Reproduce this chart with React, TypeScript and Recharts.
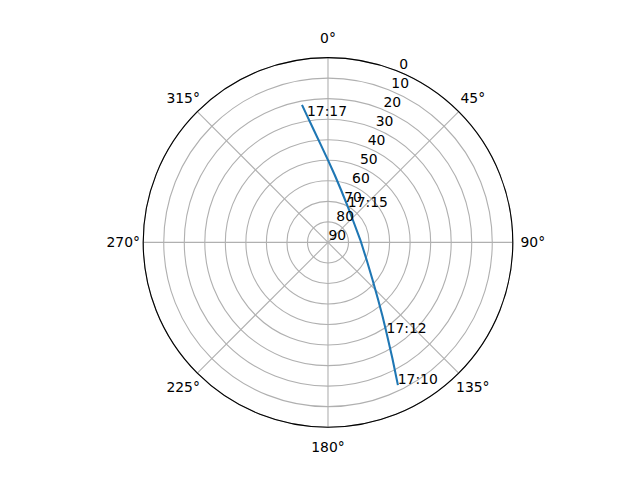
import { PolarAngleAxis, PolarGrid, PolarRadiusAxis, Radar, RadarChart } from "recharts";

// pass track, 17:10 -> end of pass
const timeLabels = ["17:10", "", "17:12", "", "", "", "", "", "", "17:15", "", "", "", "", "", "17:17", ""];
const azimuth = [153.8, 150.9, 147.2, 143.5, 138.9, 130.1, 114.5, 85.8, 48.0, 29.0, 14.0, 5.7, 0, 355.8, 352.8, 350.6, 349.4];
const elevation = [13.1, 25.6, 37.3, 45.4, 52.8, 61.6, 69.3, 74.2, 73.7, 70.1, 63.7, 57.0, 49.9, 42.4, 34.8, 27.4, 22.3];

const angleTicks = [0, 45, 90, 135, 180, 225, 270, 315];
const elevationTicks = [90, 80, 70, 60, 50, 40, 30, 20, 10, 0];

// radius = zenith distance, so 90 sits in the middle
const data = azimuth.map((az, i) => ({ az, zd: 90 - elevation[i], label: timeLabels[i] }));

const FONT = "DejaVu Sans";

function AngleTick(props: any) {
  const { x, y, payload } = props;
  return (
    <text x={x} y={y} textAnchor="middle" dominantBaseline="central" fontSize={13.9} fontFamily={FONT} fill="#000">
      {`${payload.value}°`}
    </text>
  );
}

function RadiusTick(props: any) {
  const { x, y, payload } = props;
  return (
    <text x={x + 0.5} y={y - 2.7} textAnchor="start" fontSize={13.9} fontFamily={FONT} fill="#000">
      {90 - payload.value}
    </text>
  );
}

function Track(props: any) {
  const points = props.points ?? [];
  const d = points.map((p: any, i: number) => `${i ? "L" : "M"}${p.x},${p.y}`).join(" ");
  return (
    <g>
      <path d={d} fill="none" stroke="#1f77b4" strokeWidth={2.08} strokeLinejoin="round" strokeLinecap="square" />
      {points.map((p: any, i: number) =>
        p.payload.label ? (
          <text key={i} x={p.x} y={p.y} fontSize={13.9} fontFamily={FONT} fill="#000">
            {p.payload.label}
          </text>
        ) : null
      )}
    </g>
  );
}

export default function App() {
  return (
    <div style={{ width: 632, height: 472 }}>
      <RadarChart
        width={632}
        height={472}
        data={data}
        cx={320}
        cy={234.4}
        outerRadius={184.8}
        startAngle={90}
        endAngle={-270}
        margin={{ top: 0, right: 0, bottom: 0, left: 0 }}
      >
        <PolarGrid gridType="circle" stroke="#b0b0b0" strokeWidth={1.1} />
        <PolarAngleAxis
          dataKey="az"
          type="number"
          domain={[0, 360]}
          ticks={angleTicks as any}
          tick={<AngleTick />}
          tickLine={false}
          tickSize={20}
          axisLineType="circle"
          stroke="#000"
          strokeWidth={1.1}
        />
        <PolarRadiusAxis
          type="number"
          angle={67.5}
          domain={[0, 90]}
          ticks={elevationTicks.map((e) => 90 - e) as any}
          tick={<RadiusTick />}
          axisLine={false}
          tickLine={false}
        />
        <Radar dataKey="zd" isAnimationActive={false} shape={<Track />} />
      </RadarChart>
    </div>
  );
}
